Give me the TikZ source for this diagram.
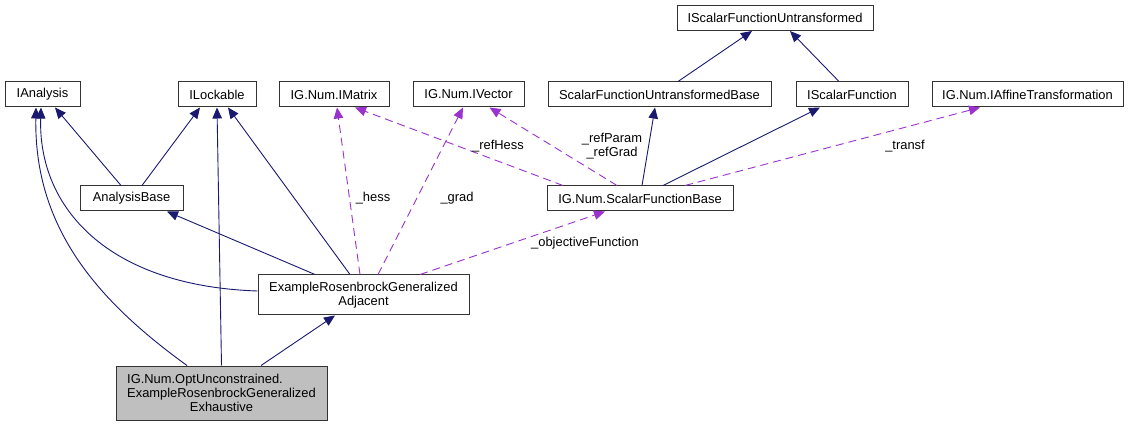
\documentclass[tikz,border=0pt]{standalone}
\usepackage{fontspec}
\setmainfont{Liberation Sans}
\usetikzlibrary{arrows.meta}
\definecolor{inhblue}{RGB}{25,25,112}
\definecolor{usepurple}{RGB}{154,50,205}
\definecolor{boxgray}{RGB}{191,191,191}

\begin{document}
\begin{tikzpicture}[x=1pt, y=-1pt, font=\fontsize{12.9}{14}\selectfont,
	cls/.style={draw=black!80, line width=1pt, fill=white, inner sep=0pt, minimum height=25pt, align=center},
	inh/.style={draw=inhblue, line width=0.9pt, -{Triangle[length=11pt,width=9.5pt]}},
	use/.style={draw=usepurple, line width=0.9pt, dash pattern=on 8pt off 5pt, -{Triangle[length=11pt,width=9.5pt]}},
	lbl/.style={inner sep=0pt, align=center}]
	\useasboundingbox (0,0) rectangle (1129,427);
	
	% Các lớp
	\node[cls, minimum width=196pt] (isfu) at (775,18) {IScalarFunctionUntransformed};
	\node[cls, minimum width=75pt] (ianalysis) at (42.5,94.5) {IAnalysis};
	\node[cls, minimum width=78pt] (ilockable) at (217,94.5) {ILockable};
	\node[cls, minimum width=110pt] (imatrix) at (334,94.5) {IG.Num.IMatrix};
	\node[cls, minimum width=111pt] (ivector) at (468.5,94.5) {IG.Num.IVector};
	\node[cls, minimum width=223pt] (sfub) at (659.5,94.5) {ScalarFunctionUntransformedBase};
	\node[cls, minimum width=112pt] (isf) at (852,94.5) {IScalarFunction};
	\node[cls, minimum width=191pt] (iat) at (1027.5,94.5) {IG.Num.IAffineTransformation};
	\node[cls, minimum width=103pt] (abase) at (131.5,198.5) {AnalysisBase};
	\node[cls, minimum width=186pt] (sfb) at (640,198.5) {IG.Num.ScalarFunctionBase};
	\node[cls, minimum width=211pt, minimum height=40pt] (adjacent) at (363.5,295) {ExampleRosenbrockGeneralized\\Adjacent};
	\node[cls, fill=boxgray, minimum width=211pt, minimum height=54pt] (exhaustive) at (221.5,393)
		{\rlap{IG.Num.OptUnconstrained.}\phantom{ExampleRosenbrockGeneralized}\\ExampleRosenbrockGeneralized\\Exhaustive};
	
	% Kế thừa
	\draw[inh] ([xshift=18.5pt]sfub.north) -- ([xshift=-23pt]isfu.south);
	\draw[inh] ([xshift=-13pt]isf.north) -- ([xshift=15pt]isfu.south);
	\draw[inh] ([xshift=-10.5pt]abase.north) -- ([xshift=12.5pt]ianalysis.south);
	\draw[inh] ([xshift=10.5pt]abase.north) -- ([xshift=-17pt]ilockable.south);
	\draw[inh] ([xshift=2pt]sfb.north) -- ([xshift=-4.5pt]sfub.south);
	\draw[inh] ([xshift=23pt]sfb.north) -- ([xshift=-32pt]isf.south);
	\draw[inh] ([yshift=4pt]adjacent.west) .. controls +(-150,-5) and +(-3,100) .. ([xshift=-1.5pt]ianalysis.south);
	\draw[inh] ([xshift=-48.5pt]adjacent.north) -- ([xshift=35.5pt]abase.south);
	\draw[inh] ([xshift=-13.5pt]adjacent.north) -- ([xshift=11pt]ilockable.south);
	\draw[inh] ([xshift=-34.5pt]exhaustive.north) .. controls +(-90,-65) and +(-2,120) .. ([xshift=-6.5pt]ianalysis.south);
	\draw[inh] (exhaustive.north) -- (ilockable.south);
	\draw[inh] ([xshift=39.5pt]exhaustive.north) -- ([xshift=-28.5pt]adjacent.south);
	
	% Thành viên
	\draw[use] ([xshift=-3.5pt]adjacent.north) -- ([xshift=3pt]imatrix.south);
	\draw[use] ([xshift=14.5pt]adjacent.north) -- ([xshift=-5.5pt]ivector.south);
	\draw[use] ([xshift=56.5pt]adjacent.north) -- ([xshift=-35pt]sfb.south);
	\draw[use] ([xshift=-77pt]sfb.north) -- ([xshift=21pt]imatrix.south);
	\draw[use] ([xshift=-23pt]sfb.north) -- ([xshift=21pt]ivector.south);
	\draw[use] ([xshift=45pt]sfb.north) -- ([xshift=-47.5pt]iat.south);
	
	% Nhãn
	\node[lbl] (lhess) at (373,198) {\_hess};
	\node[lbl] (lgrad) at (457,198) {\_grad};
	\node[lbl] (lrefhess) at (498,146) {\_refHess};
	\node[lbl] (lref) at (612,146) {\_refParam\\\_refGrad};
	\node[lbl] (ltransf) at (905,146) {\_transf};
	\node[lbl] (lobj) at (585,243) {\_objectiveFunction};
\end{tikzpicture}
\end{document}
